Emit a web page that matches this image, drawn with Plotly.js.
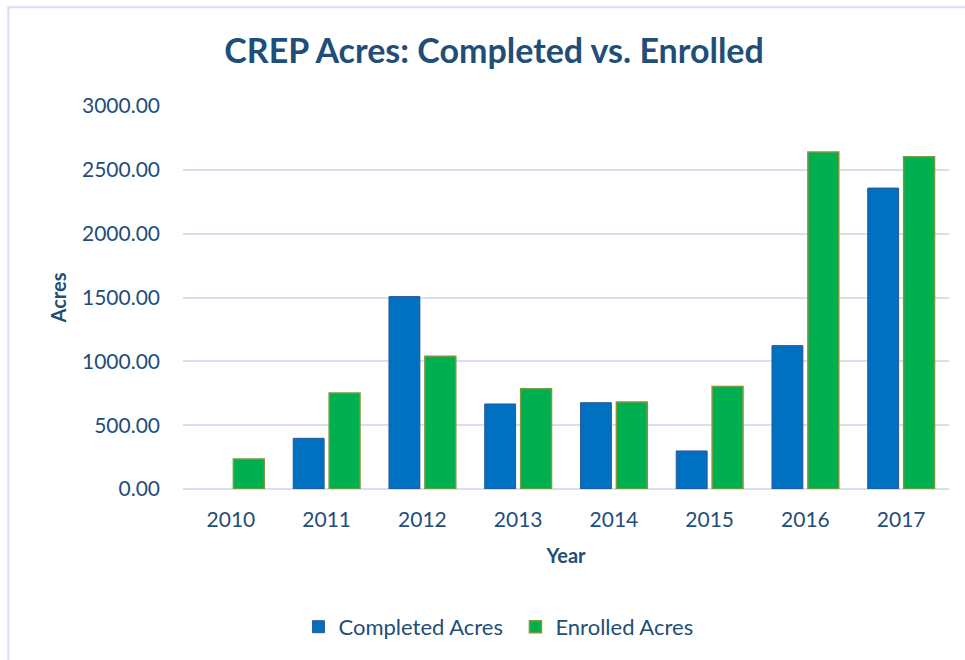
<!DOCTYPE html>
<html>
<head>
<meta charset="utf-8">
<script src="https://cdn.plot.ly/plotly-3.0.1.min.js"></script>
<style>html,body{margin:0;padding:0;background:#fff;}#chart{width:965px;height:660px;}</style>
</head>
<body>
<div id="chart"></div>
<script>
var years = ['2010','2011','2012','2013','2014','2015','2016','2017'];
var completedAcres = [null, 397, 1507, 666, 676, 298, 1123, 2357];
var enrolledAcres = [235, 752, 1039, 786, 681, 802, 2639, 2603];
var yTicks = [0, 500, 1000, 1500, 2000, 2500, 3000];
var yTickLabels = ['0.00', '500.00', '1000.00', '1500.00', '2000.00', '2500.00', '3000.00'];

var txtColor = '#1F4E79';
var fontFam = 'Lato, "Open Sans", sans-serif';

var traces = [
  {
    type: 'bar', name: 'Completed Acres', x: years, y: completedAcres,
    marker: {color: '#0070C0', line: {color: '#2F5597', width: 1}}
  },
  {
    type: 'bar', name: 'Enrolled Acres', x: years, y: enrolledAcres,
    marker: {color: '#00B050', line: {color: '#7A9A3A', width: 1.5}}
  }
];

var layout = {
  width: 965, height: 660,
  margin: {l: 183, r: 16, t: 106, b: 171},
  paper_bgcolor: '#ffffff', plot_bgcolor: '#ffffff',
  font: {family: fontFam, color: txtColor, size: 21},
  title: {
    text: '<b>CREP Acres: Completed vs. Enrolled</b>',
    font: {family: fontFam, size: 34, color: txtColor},
    xref: 'container', x: 0.512, xanchor: 'center',
    yref: 'container', y: 0.922, yanchor: 'middle'
  },
  barmode: 'group', bargap: 0.25, bargroupgap: 0.14,
  xaxis: {
    type: 'category', showgrid: false, zeroline: false, showline: false,
    ticks: '', ticklabelstandoff: 16, tickfont: {size: 21, color: txtColor},
    title: {text: '<b>Year</b>', font: {size: 20, color: txtColor}, standoff: 18},
    automargin: false
  },
  yaxis: {
    range: [0, 3000], tickvals: yTicks, ticktext: yTickLabels,
    showgrid: true, gridcolor: '#D6E0F1', gridwidth: 2,
    zeroline: true, zerolinecolor: '#D6E0F1', zerolinewidth: 2,
    showline: false, ticks: '', ticklabelstandoff: 22,
    tickfont: {size: 21, color: txtColor},
    title: {text: '<b>Acres</b>', font: {size: 20, color: txtColor}, standoff: 9},
    automargin: false
  },
  legend: {
    orientation: 'h', xref: 'paper', x: 0.434, xanchor: 'center',
    yref: 'paper', y: -0.36, yanchor: 'middle',
    font: {size: 22, color: txtColor}, itemwidth: 30, traceorder: 'normal',
    entrywidth: 172
  },
  showlegend: true,
  shapes: [{
    type: 'rect', xref: 'paper', yref: 'paper',
    x0: -0.228, x1: 1.05, y0: -0.47, y1: 1.258,
    line: {color: '#D6E0F1', width: 2}, fillcolor: 'rgba(0,0,0,0)', layer: 'below'
  }]
};

Plotly.newPlot('chart', traces, layout, {displayModeBar: false, staticPlot: true});
</script>
</body>
</html>
